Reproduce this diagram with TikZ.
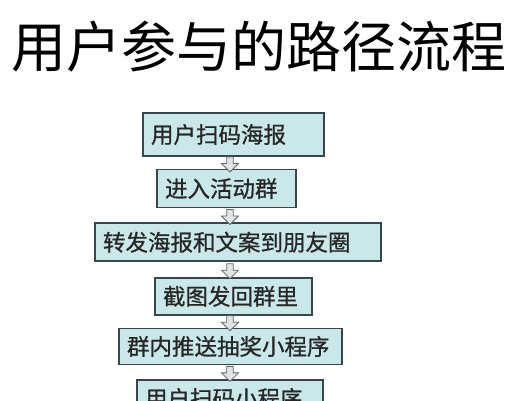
\documentclass[tikz,border=0pt]{standalone}
\usepackage{fontspec}
\newfontfamily\cjk{Noto Sans CJK SC}
\newfontfamily\cjkbox[FakeBold=0.8]{Noto Sans CJK SC}
\usetikzlibrary{positioning,calc,shapes.arrows}
\definecolor{stepfill}{RGB}{202,231,233}
\definecolor{stepline}{RGB}{55,70,75}
\definecolor{arrowfill}{RGB}{225,228,228}
\definecolor{arrowline}{RGB}{95,105,108}

\begin{document}
\begin{tikzpicture}[x=1pt,y=-1pt,
  stepbox/.style={draw=stepline,line width=1.6pt,fill=stepfill,font=\cjkbox\fontsize{22.5}{25}\selectfont,
    text=black!85,align=left,inner xsep=8pt,inner ysep=0pt,minimum height=38pt},
  downarrow/.style={single arrow,draw=arrowline,fill=arrowfill,line width=0.8pt,shape border rotate=270,
    minimum width=17pt,minimum height=15pt,single arrow head extend=3pt,inner sep=1.5pt}]
\useasboundingbox (0,0) rectangle (521,400);
\clip (0,0) rectangle (521,400);
\fill[white] (0,0) rectangle (521,400);
\node[font=\cjk\fontsize{55}{60}\selectfont] (title) at (258.5,47) {用户参与的路径流程};
\coordinate (axis) at (230,0);
\node[stepbox,text width=165pt,minimum height=43pt] (scan) at (233.5,134.5) {用户扫码海报};
\node[stepbox,text width=123pt,below = 12pt of scan,xshift=-7pt] (join) {进入活动群};
\node[stepbox,text width=270pt,below = 14pt of join,xshift=11.5pt] (share) {转发海报和文案到朋友圈};
\node[stepbox,text width=141pt,minimum height=37pt,below = 15pt of share,xshift=-4.5pt] (shot) {截图发回群里};
\node[stepbox,text width=207pt,minimum height=36pt,below = 12pt of shot,xshift=-3pt] (push) {群内推送抽奖小程序};
\node[stepbox,text width=170pt,minimum height=37pt,below = 14pt of push,xshift=-0.5pt] (mini) {用户扫码小程序};
\foreach \a/\b in {scan/join,join/share,share/shot,shot/push,push/mini}
  \path ($(\a.south)!.5!(\b.north)$) coordinate (m\a)
    node[downarrow] (arr\a) at (axis |- m\a) {};
\end{tikzpicture}
\end{document}
